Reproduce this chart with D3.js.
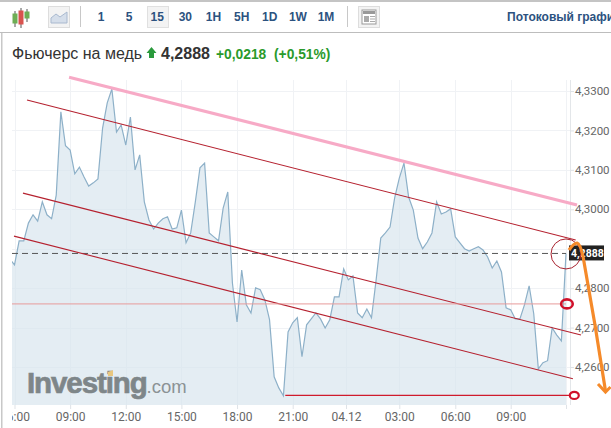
<!DOCTYPE html>
<html><head><meta charset="utf-8">
<script src="https://cdn.jsdelivr.net/npm/d3@7"></script>
<style>html,body{margin:0;padding:0;background:#fff;overflow:hidden}svg{display:block}</style>
</head><body><svg id="c" width="611" height="428"></svg>
<script>
// 15-minute closes (first one lies just left of the clipped plot)
const prices = [
4.2874,4.2859,4.2920,4.2920,4.2965,4.2986,4.2970,4.3019,4.2986,4.2976,
4.3036,4.3247,4.3161,4.3150,4.3090,4.3107,4.3082,4.3059,4.3067,4.3077,
4.3206,4.3270,4.3305,4.3196,4.3214,4.3163,4.3234,4.3100,4.3138,4.3019,
4.2973,4.2950,4.2965,4.2976,4.2981,4.2950,4.2953,4.2998,4.2915,4.2940,
4.3019,4.3105,4.3117,4.2940,4.2930,4.2920,4.3003,4.3044,4.2813,4.2714,
4.2846,4.2758,4.2737,4.2801,4.2796,4.2770,4.2720,4.2575,4.2547,4.2527,
4.2689,4.2712,4.2725,4.2626,4.2707,4.2722,4.2737,4.2722,4.2699,4.2720,
4.2778,4.2778,4.2849,4.2821,4.2831,4.2737,4.2725,4.2747,4.2725,4.2821,
4.2927,4.2940,4.2955,4.3029,4.3079,4.3117,4.3031,4.2998,4.2927,4.2900,
4.2917,4.2940,4.3019,4.2988,4.2993,4.3001,4.2930,4.2915,4.2900,4.2894,
4.2900,4.2905,4.2897,4.2879,4.2851,4.2869,4.2841,4.2750,4.2745,4.2722,
4.2722,4.2758,4.2806,4.2735,4.2595,4.2611,4.2616,4.2699,4.2681,4.2666,4.2888];
const priceTicks = [4.26,4.27,4.28,4.30,4.31,4.32,4.33];
const gridPrices = [4.26,4.27,4.28,4.29,4.30,4.31,4.32,4.33];
const timeTickIndex = [1,13,25,37,49,61,72.5,84,96,108,120];
const timeTickLabels = ["06:00","09:00","12:00","15:00","18:00","21:00","04.12","03:00","06:00","09:00",""];
const lastPrice = 4.2888;
const channelLines = [
  [[3.7,4.3277],[122.1,4.2922]],
  [[2.83,4.3041],[123.26,4.2681]],
  [[0.89,4.2932],[121.5,4.2570]]
];
const pinkLine = [[12.77,4.3335],[122.39,4.3011]];
const supportA = 4.2760, supportB = 4.2528;
const periods = ["1","5","15","30","1H","5H","1D","1W","1M"];

const svg = d3.select("#c");
const F = "'Liberation Sans',Arial,sans-serif", R = "Roboto,sans-serif";
const plotL = 12, plotR = 570, plotT = 80, plotB = 405;

const x = d3.scaleLinear().domain([1,61,72.5,84,96,108,120]).range([14.5,292.7,346,399.3,455.3,510.7,566]);
const y = d3.scaleLinear().domain([4.26,4.33]).range([367,91]);

// page frame
svg.append("rect").attr("x",0).attr("y",0).attr("width",611).attr("height",2).attr("fill","#c4c4c4");
svg.append("rect").attr("x",0).attr("y",32).attr("width",611).attr("height",1).attr("fill","#bdbdbd");
svg.append("rect").attr("x",1).attr("y",33).attr("width",1.5).attr("height",395).attr("fill","#c8c8c8");

// toolbar icons
const cand = svg.append("g");
[[15,14,9,"#6fae55"],[21,11,13,"#d9534f"],[27,12,6,"#6fae55"]].forEach(([cx,t,h,c])=>{
  cand.append("line").attr("x1",cx).attr("x2",cx).attr("y1",t-3).attr("y2",t+h+4).attr("stroke","#555");
  cand.append("rect").attr("x",cx-2).attr("y",t).attr("width",4).attr("height",h).attr("fill",c).attr("stroke",c);
});
svg.append("rect").attr("x",48.5).attr("y",6.5).attr("width",21).attr("height",21).attr("fill","#f3f3f3").attr("stroke","#ddd");
svg.append("path").attr("d","M51 23 L51 18 L56 14 L60 17 L67 12 L67 23Z").attr("fill","#d5deea").attr("stroke","#a9b9cf");
svg.append("rect").attr("x",80).attr("y",6).attr("width",1).attr("height",21).attr("fill","#c8c8c8");
svg.append("rect").attr("x",347).attr("y",6).attr("width",1).attr("height",21).attr("fill","#c8c8c8");
svg.append("rect").attr("x",147.5).attr("y",6.5).attr("width",21).attr("height",21).attr("fill","#f3f3f3").attr("stroke","#e0e0e0");
svg.append("rect").attr("x",358.5).attr("y",6.5).attr("width",21).attr("height",21).attr("fill","#f3f3f3").attr("stroke","#ddd");
svg.append("rect").attr("x",362).attr("y",10).attr("width",14).attr("height",14).attr("fill","#fff").attr("stroke","#999");
svg.append("rect").attr("x",363).attr("y",11).attr("width",12).attr("height",3).attr("fill","#999");
svg.append("rect").attr("x",364).attr("y",16).attr("width",5).attr("height",6).attr("fill","#aaa");
[16.5,19,21.5].forEach(v=>svg.append("line").attr("x1",370).attr("x2",375).attr("y1",v).attr("y2",v).attr("stroke","#aaa"));

const tabX = d3.scalePoint().domain(periods).range([101,326]);
svg.append("g").selectAll("text").data(periods).join("text")
  .attr("x",d=>tabX(d)).attr("y",21).attr("text-anchor","middle")
  .attr("font-family",F).attr("font-size",12).attr("font-weight","bold").attr("fill","#2c5280").text(d=>d);
svg.append("text").attr("x",507).attr("y",21).attr("font-family",F).attr("font-size",12).attr("font-weight","bold").attr("fill","#2c5280").text("Потоковый графи");

// title
svg.append("text").attr("x",12).attr("y",59).attr("font-family",F).attr("font-size",16).attr("fill","#333").text("Фьючерс на медь");
svg.append("path").attr("d","M151.5 47 L156.5 53 L154 53 L154 58 L149 58 L149 53 L146.5 53Z").attr("fill","#2a9a3c");
svg.append("text").attr("x",161).attr("y",59).attr("font-family",F).attr("font-size",16).attr("font-weight","bold").attr("fill","#333").text("4,2888");
svg.append("text").attr("x",216).attr("y",59).attr("font-family",F).attr("font-size",13.8).attr("font-weight","bold").attr("fill","#2a9a2c").text("+0,0218");
svg.append("text").attr("x",274).attr("y",59).attr("font-family",F).attr("font-size",13.8).attr("font-weight","bold").attr("fill","#2a9a2c").text("(+0,51%)");

// plot clip
const defs = svg.append("defs");
defs.append("clipPath").attr("id","plot").append("rect")
  .attr("x",plotL).attr("y",plotT).attr("width",plotR-plotL-2).attr("height",plotB-plotT);
defs.append("clipPath").attr("id","tl").append("rect")
  .attr("x",plotL).attr("y",0).attr("width",600).attr("height",23);

// grid
const grid = svg.append("g").attr("stroke","#f0f2f5").attr("stroke-width",1);
grid.selectAll("line.h").data(gridPrices).join("line").attr("class","h")
  .attr("x1",plotL).attr("x2",plotR).attr("y1",d=>Math.round(y(d))+.5).attr("y2",d=>Math.round(y(d))+.5);
grid.selectAll("line.v").data(timeTickIndex).join("line").attr("class","v")
  .attr("y1",plotT).attr("y2",plotB).attr("x1",d=>Math.round(x(d))+.5).attr("x2",d=>Math.round(x(d))+.5);

// area + line
const g = svg.append("g").attr("clip-path","url(#plot)");
g.append("path").datum(prices)
  .attr("d",d3.area().x((d,i)=>x(i)).y0(plotB).y1(d=>y(d)))
  .attr("fill","#d5e3ed").attr("fill-opacity",.65);
g.append("path").datum(prices)
  .attr("d",d3.line().x((d,i)=>x(i)).y(d=>y(d)))
  .attr("fill","none").attr("stroke","#8db0c8").attr("stroke-width",1.2);

// axes
const axX = d3.axisBottom(x).tickValues(timeTickIndex).tickSize(4).tickFormat((d,i)=>timeTickLabels[i]);
const gx = svg.append("g").attr("transform",`translate(0,${plotB})`).attr("clip-path","url(#tl)").call(axX);
gx.select(".domain").remove();
gx.selectAll("line").attr("stroke","#dfe3e7");
gx.selectAll("text").attr("font-family",R).attr("font-size",12).attr("fill","#666").attr("y",7);

const axY = d3.axisRight(y).tickValues(priceTicks).tickSize(4).tickFormat(d=>d.toFixed(4).replace(".",","));
const gy = svg.append("g").attr("transform",`translate(${plotR},0)`).call(axY);
gy.select(".domain").attr("d",`M0.5,${plotT}V${plotB}`).attr("stroke","#e3e6e9");
gy.selectAll("line").attr("stroke","#dfe3e7");
gy.selectAll("text").attr("font-family",R).attr("font-size",11.5).attr("fill","#666").attr("x",5);

// logo
const logo = svg.append("text").attr("x",27).attr("y",393).attr("font-family",F);
logo.append("tspan").attr("font-size",29.5).attr("font-weight","bold").attr("fill","#7e8689").attr("stroke","#7e8689").attr("stroke-width",.7).attr("letter-spacing",-1.1).text("Investing");
logo.append("tspan").attr("font-size",18.5).attr("fill","#8b9295").text(".com");
svg.append("path").attr("d","M108 372 L113 370 L113 376 L108 376Z").attr("fill","#e9c77f");

// last price
svg.append("line").attr("x1",plotL).attr("x2",x(120)).attr("y1",y(lastPrice)).attr("y2",y(lastPrice))
  .attr("stroke","#555").attr("stroke-dasharray","6,4");
svg.append("rect").attr("x",569).attr("y",y(lastPrice)-8).attr("width",35).attr("height",15).attr("fill","#222");
svg.append("text").attr("x",571).attr("y",y(lastPrice)+3.5).attr("font-family",R).attr("font-size",10.5).attr("font-weight","bold").attr("fill","#fff").text("4,2888");

// drawn annotations
const pt = d3.line().x(d=>x(d[0])).y(d=>y(d[1]));
svg.append("path").attr("d",pt(pinkLine)).attr("stroke","#f7aac6").attr("stroke-width",3.2).attr("fill","none");
svg.append("g").selectAll("path").data(channelLines).join("path").attr("d",pt)
  .attr("stroke","#b5212f").attr("stroke-width",1.1).attr("fill","none");
svg.append("line").attr("x1",plotL).attr("x2",x(120)).attr("y1",y(supportA)).attr("y2",y(supportA))
  .attr("stroke","#e79a9a").attr("stroke-width",1);
svg.append("line").attr("x1",x(59.4)).attr("x2",x(121.5)).attr("y1",y(supportB)).attr("y2",y(supportB))
  .attr("stroke","#cf1b2c").attr("stroke-width",1.4);
svg.append("circle").attr("cx",x(120)).attr("cy",y(lastPrice)+.5).attr("r",15).attr("fill","none").attr("stroke","#a8222e").attr("stroke-width",1);
svg.append("ellipse").attr("cx",x(120.2)).attr("cy",y(supportA)).attr("rx",5.8).attr("ry",4.5).attr("fill","none").attr("stroke","#d0102a").attr("stroke-width",2.6);
svg.append("ellipse").attr("cx",x(121.8)).attr("cy",y(supportB)).attr("rx",4.5).attr("ry",3.6).attr("fill","#fff").attr("stroke","#d0102a").attr("stroke-width",2.2);
svg.append("path").attr("d","M569 250 Q574 243 577 243 Q581 244 584 262 L595 325 L605.5 391")
  .attr("fill","none").attr("stroke","#f58a2a").attr("stroke-width",3.2);
svg.append("path").attr("d","M598 384 L605.5 392 L610.5 387")
  .attr("fill","none").attr("stroke","#f58a2a").attr("stroke-width",3);
</script></body></html>
